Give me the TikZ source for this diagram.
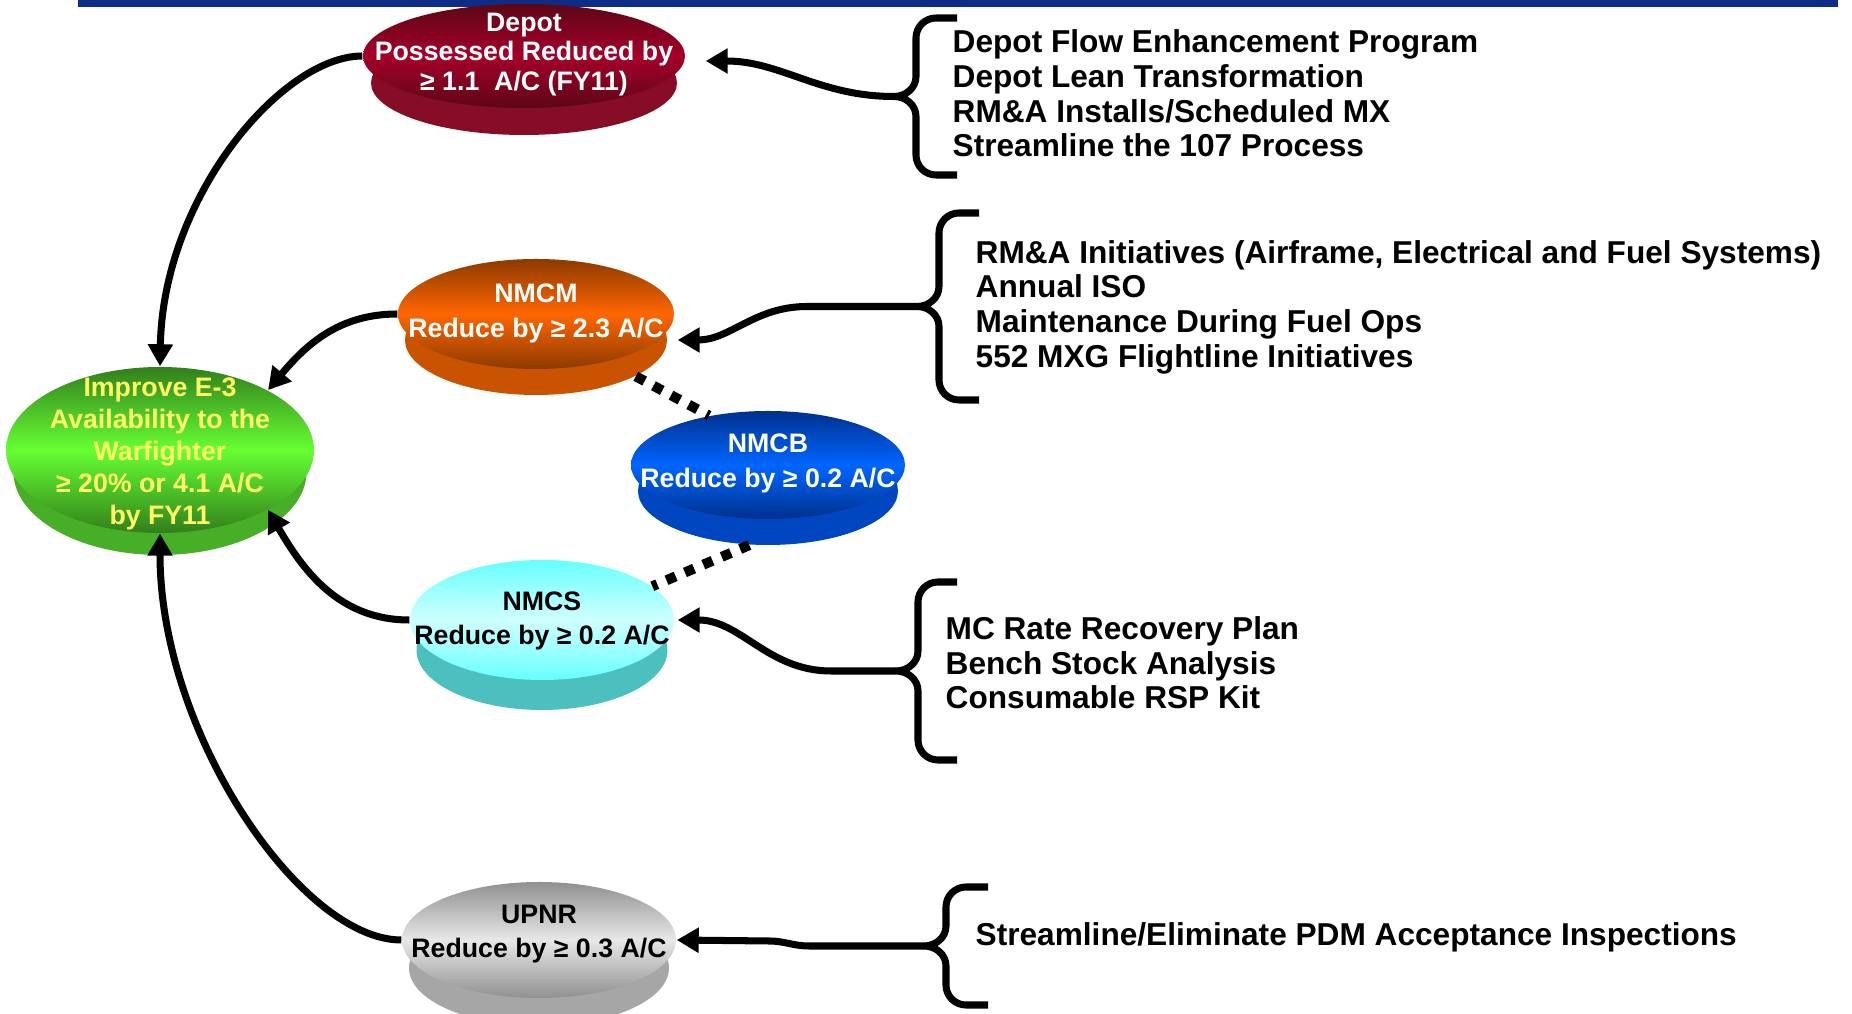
\documentclass[tikz,border=0pt]{standalone}
\usepackage{fontspec}
\setmainfont{Liberation Sans}
\usetikzlibrary{arrows.meta}
\usetikzlibrary{positioning}
\usetikzlibrary{shapes.geometric}
\definecolor{barblue}{HTML}{0E2C88}
\definecolor{depotdark}{HTML}{5C0715}
\definecolor{depotmid}{HTML}{A5002A}
\definecolor{depotside}{HTML}{870C25}
\definecolor{nmcmdark}{HTML}{8C3A00}
\definecolor{nmcmmid}{HTML}{FF6600}
\definecolor{nmcmside}{HTML}{C95300}
\definecolor{impdark}{HTML}{327F1C}
\definecolor{impmid}{HTML}{66FF33}
\definecolor{impside}{HTML}{46AE27}
\definecolor{nmcbdark}{HTML}{00308C}
\definecolor{nmcbmid}{HTML}{0066FF}
\definecolor{nmcbside}{HTML}{0046C0}
\definecolor{nmcstop}{HTML}{66FFFF}
\definecolor{nmcsmid}{HTML}{D0FFFF}
\definecolor{nmcsside}{HTML}{4CBFBF}
\definecolor{upnrdark}{HTML}{909090}
\definecolor{upnrmid}{HTML}{E8E8E8}
\definecolor{upnrside}{HTML}{A6A6A6}
\definecolor{goalyellow}{HTML}{FFFF66}
\tikzset{
	disctop/.style={ellipse, inner sep=0pt},
	discside/.style={ellipse, inner sep=0pt},
	disctext/.style={font=\fontsize{7.6}{9.7}\selectfont\bfseries, align=center, inner sep=0pt},
	listtext/.style={font=\fontsize{9}{9.85}\selectfont\bfseries, align=left, anchor=west, inner sep=0pt},
	conn/.style={line width=2pt, -{Triangle[width=0.24cm,length=0.22cm]}},
	dotlink/.style={line width=0.1cm, dash pattern=on 0.1cm off 0.1cm},
	curly/.style={line width=2pt}
}

\begin{document}
\begin{tikzpicture}
				\useasboundingbox (0,0) rectangle (18.52,-10.14);
				\clip (0,0) rectangle (18.52,-10.14);
				\fill[barblue] (0.78,0) rectangle (18.38,-0.07);
				
				% discs
				\node[discside, minimum width=3.06cm, minimum height=1.04cm, fill=depotside] (depots) at (5.24,-0.83) {};
				\node[disctop, minimum width=3.22cm, minimum height=1.04cm, top color=depotdark, bottom color=depotdark, middle color=depotmid] (depot) at (5.24,-0.56) {};
				\node[disctext, white, font=\fontsize{7.6}{8.3}\selectfont\bfseries] at ([yshift=0.015cm]depot.center) {Depot\\Possessed Reduced by\\≥ 1.1\ \ A/C (FY11)};
				
				\node[discside, minimum width=2.62cm, minimum height=1.10cm, fill=nmcmside] (nmcms) at (5.36,-3.40) {};
				\node[disctop, minimum width=2.76cm, minimum height=1.10cm, top color=nmcmdark, bottom color=nmcmdark, middle color=nmcmmid] (nmcm) at (5.36,-3.14) {};
				\node[disctext, white] at ([yshift=0.005cm]nmcm.center) {NMCM\\Reduce by ≥ 2.3 A/C};
				
				\node[discside, minimum width=2.93cm, minimum height=1.66cm, fill=impside] (imps) at (1.60,-4.72) {};
				\node[disctop, minimum width=3.08cm, minimum height=1.66cm, top color=impdark, bottom color=impdark, middle color=impmid] (imp) at (1.60,-4.50) {};
				\node[disctext, goalyellow, font=\fontsize{7.6}{9.1}\selectfont\bfseries] at ([yshift=-0.035cm]imp.center) {Improve E-3\\Availability to the\\Warfighter\\≥ 20\% or 4.1 A/C\\by FY11};
				
				\node[discside, minimum width=2.60cm, minimum height=1.08cm, fill=nmcbside] (nmcbs) at (7.68,-4.91) {};
				\node[disctop, minimum width=2.74cm, minimum height=1.08cm, top color=nmcbdark, bottom color=nmcbdark, middle color=nmcbmid] (nmcb) at (7.68,-4.65) {};
				\node[disctext, white] at ([yshift=0.015cm]nmcb.center) {NMCB\\Reduce by ≥ 0.2 A/C};
				
				\node[discside, minimum width=2.51cm, minimum height=1.20cm, fill=nmcsside] (nmcss) at (5.42,-6.50) {};
				\node[disctop, minimum width=2.64cm, minimum height=1.20cm, top color=nmcstop, bottom color=nmcstop, middle color=nmcsmid] (nmcs) at (5.42,-6.20) {};
				\node[disctext, black] at ([yshift=-0.005cm]nmcs.center) {NMCS\\Reduce by ≥ 0.2 A/C};
				
				\node[discside, minimum width=2.60cm, minimum height=1.16cm, fill=upnrside] (upnrs) at (5.39,-9.68) {};
				\node[disctop, minimum width=2.74cm, minimum height=1.16cm, top color=upnrdark, bottom color=upnrdark, middle color=upnrmid] (upnr) at (5.39,-9.40) {};
				\node[disctext, black] at ([yshift=0.055cm]upnr.center) {UPNR\\Reduce by ≥ 0.3 A/C};
				
				\draw[dotlink] (nmcms.-20) -- (nmcb.140);
				\draw[dotlink] (nmcbs.-109) -- (nmcs.17);
				
				% braces and their lists
				\draw[curly] (9.57,-0.18) -- ++(-0.21,0) to[out=180,in=90] ++(-0.2,-0.2) -- ++(0,-0.385) to[out=-90,in=0] ++(-0.22,-0.2) coordinate (bdepot) to[out=0,in=90] ++(0.22,-0.2) -- ++(0,-0.385) to[out=-90,in=180] ++(0.2,-0.2) -- ++(0.21,0);
				\draw[curly] (9.79,-2.13) -- ++(-0.2,0) to[out=180,in=90] ++(-0.2,-0.2) -- ++(0,-0.535) to[out=-90,in=0] ++(-0.22,-0.2) coordinate (bnmcm) to[out=0,in=90] ++(0.22,-0.2) -- ++(0,-0.535) to[out=-90,in=180] ++(0.2,-0.2) -- ++(0.2,0);
				\draw[curly] (9.57,-5.82) -- ++(-0.19,0) to[out=180,in=90] ++(-0.2,-0.2) -- ++(0,-0.49) to[out=-90,in=0] ++(-0.22,-0.2) coordinate (bnmcs) to[out=0,in=90] ++(0.22,-0.2) -- ++(0,-0.49) to[out=-90,in=180] ++(0.2,-0.2) -- ++(0.19,0);
				\draw[curly] (9.88,-8.87) -- ++(-0.22,0) to[out=180,in=90] ++(-0.2,-0.2) -- ++(0,-0.19) to[out=-90,in=0] ++(-0.22,-0.2) coordinate (bupnr) to[out=0,in=90] ++(0.22,-0.2) -- ++(0,-0.19) to[out=-90,in=180] ++(0.2,-0.2) -- ++(0.22,0);
				
				\node[listtext] (ldepot) at (9.52,-0.935) {Depot Flow Enhancement Program\\Depot Lean Transformation\\RM\&A Installs/Scheduled MX\\Streamline the 107 Process};
				\node[listtext] (lnmcm) at (9.75,-3.07) {RM\&A Initiatives (Airframe, Electrical and Fuel Systems)\\Annual ISO\\Maintenance During Fuel Ops\\552 MXG Flightline Initiatives};
				\node[listtext] (lnmcs) at (9.45,-6.63) {MC Rate Recovery Plan\\Bench Stock Analysis\\Consumable RSP Kit};
				\node[listtext] (lupnr) at (9.75,-9.375) {Streamline/Eliminate PDM Acceptance Inspections};
				
				% arrows into the discs
				\draw[conn] (bdepot) to[out=180,in=0] ([xshift=0.2cm,yshift=-0.05cm]depot.east);
				\draw[conn] (bnmcm) -- ++(-1.1,0) to[out=180,in=0] ([xshift=0.1cm]nmcms.east);
				\draw[conn] (bnmcs) -- ++(-0.65,0) to[out=180,in=0] ([xshift=0.03cm]nmcs.east);
				\draw[conn] (bupnr) -- ++(-1.15,0) to[out=180,in=0] ++(-0.4,0.05) -- (upnr.east);
				
				% arrows into the goal
				\draw[conn] (depot.west) .. controls +(-0.8,0) and +(0.03,1.7) .. (imp.north);
				\draw[conn] (nmcm.west) to[out=180,in=50] (imp.29);
				\draw[conn] (nmcs.west) to[out=180,in=-60] (imp.-29);
				\draw[conn] (upnr.west) .. controls +(-1.0,0) and +(0,-2.0) .. (imp.south);
			\end{tikzpicture}
\end{document}
